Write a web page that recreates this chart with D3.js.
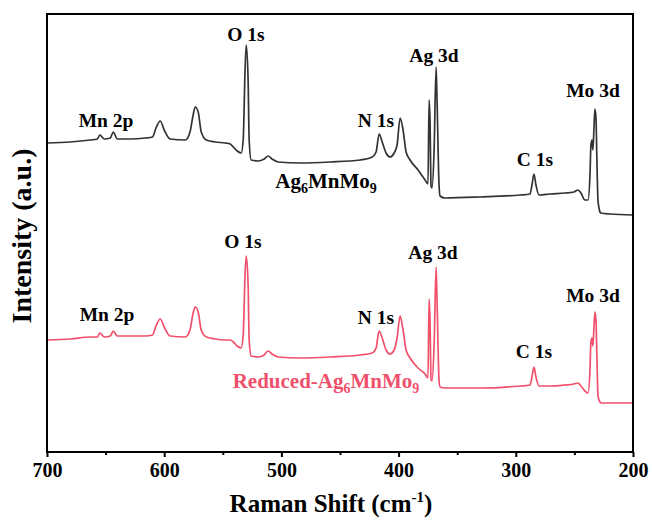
<!DOCTYPE html>
<html>
<head>
<meta charset="utf-8">
<script src="https://cdn.jsdelivr.net/npm/d3@7"></script>
<style>
  html, body { margin: 0; padding: 0; background: #fff; }
  svg { display: block; }
  text { font-family: "Liberation Serif", "Times New Roman", serif; font-weight: bold; }
</style>
</head>
<body>
<svg id="chart" width="652" height="522"></svg>
<script>
// Raman shift (cm-1) sampling points shared by both spectra
const shift = [700, 680, 663, 657, 655, 651, 646, 643.5, 640, 629,
  616, 610, 607, 603.4, 600, 595, 582, 578, 575.3, 573.5,
  571, 568.4, 564, 556.5, 548, 543.7, 541, 537.7, 534.3, 532.6,
  531, 530, 528.4, 527.5, 525.8, 519.8, 514.7, 511.3, 508, 502.8,
  484, 458.4, 432.8, 422.6, 419.2, 416.6, 414, 410.7, 407.3, 403.8,
  401.3, 398.7, 396.2, 393.6, 390.2, 383.4, 377.4, 374.9, 374, 373.2,
  372.3, 371.5, 369.7, 368, 367.2, 365.5, 364.6, 360.4, 330.5, 296.4,
  287.9, 286.2, 284.5, 282.8, 280.2, 270.8, 258, 250.4, 247, 244.4,
  241, 238.4, 236.7, 235.9, 235, 234.2, 233.3, 232.5, 231.6, 230.8,
  229.9, 229, 228.2, 227.3, 219.7, 200];

// Intensity (a.u.), pristine sample (vertically offset)
const pristine = [309, 310, 312, 313, 317, 313, 314, 320, 313, 313,
  314, 315, 324, 331, 322, 313, 312, 320, 337, 345,
  340, 320, 312, 310, 309, 308, 305, 301, 299, 312,
  382, 407, 372, 312, 292, 291, 293, 296, 293, 290,
  289, 290, 292, 295, 300, 318, 310, 299, 295, 299,
  307, 334, 322, 300, 292, 282, 272, 268, 352, 332,
  266, 264, 302, 385, 352, 267, 256, 254, 255, 257,
  258, 267, 278, 267, 257, 258, 259, 260, 262, 259,
  252, 252, 277, 307, 312, 302, 324, 343, 334, 292,
  252, 244, 240, 239, 238, 237];

// Intensity (a.u.), reduced sample
const reduced = [112, 113, 115, 115, 119, 115, 116, 121, 116, 116,
  116, 117, 126, 133, 125, 116, 115, 122, 139, 145,
  140, 122, 115, 113, 112, 112, 110, 106, 104, 117,
  177, 196, 167, 112, 96, 95, 97, 101, 98, 95,
  94, 95, 97, 99, 104, 121, 114, 102, 98, 102,
  114, 136, 122, 102, 94, 84, 78, 74, 153, 132,
  72, 71, 107, 185, 152, 72, 65, 64, 64, 66,
  67, 75, 85, 75, 66, 66, 67, 68, 69, 66,
  61, 59, 82, 110, 114, 106, 125, 140, 132, 97,
  57, 52, 50, 49, 49, 49];

const xTicks = [700, 600, 500, 400, 300, 200];
const xMinorTicks = [650, 550, 450, 350, 250];

const peakNames = ["Mn 2p", "O 1s", "N 1s", "Ag 3d", "C 1s", "Mo 3d"];

const svg = d3.select("#chart");
const margin = { left: 47, right: 19, top: 14, bottom: 70 };
const W = 652, H = 522;

const x = d3.scaleLinear().domain([700, 200]).range([margin.left, W - margin.right]);
const y = d3.scaleLinear().domain([0, 438]).range([H - margin.bottom, margin.top]);

const BLACK = "#333333";
const RED = "#f0506c";

const line = (vals) => d3.line()
  .x((d, i) => x(shift[i]))
  .y(d => y(d))
  .curve(d3.curveMonotoneX)(vals);

// spectra
svg.append("path").attr("d", line(pristine))
  .attr("fill", "none").attr("stroke", BLACK).attr("stroke-width", 1.7)
  .attr("stroke-linejoin", "round");
svg.append("path").attr("d", line(reduced))
  .attr("fill", "none").attr("stroke", RED).attr("stroke-width", 1.7)
  .attr("stroke-linejoin", "round");

// bottom axis
const gx = svg.append("g").attr("transform", `translate(0,${y(0)})`);
gx.call(d3.axisBottom(x).tickValues(xTicks).tickSize(5).tickSizeOuter(0).tickPadding(6)
  .tickFormat(d3.format("d")));
gx.select(".domain").remove();
gx.selectAll(".tick line").attr("stroke", "#000").attr("stroke-width", 2);
gx.selectAll(".tick text").attr("fill", "#000").attr("font-size", 20)
  .attr("font-family", "Liberation Serif, Times New Roman, serif").attr("font-weight", "bold");
const gxm = svg.append("g").attr("transform", `translate(0,${y(0)})`);
gxm.call(d3.axisBottom(x).tickValues(xMinorTicks).tickSize(3).tickFormat(""));
gxm.select(".domain").remove();
gxm.selectAll(".tick line").attr("stroke", "#000").attr("stroke-width", 2);

// frame
svg.append("rect")
  .attr("x", x(700)).attr("y", y(438))
  .attr("width", x(200) - x(700)).attr("height", y(0) - y(438))
  .attr("fill", "none").attr("stroke", "#000").attr("stroke-width", 2);

// axis titles
const xt = svg.append("text").attr("x", 331).attr("y", 512)
  .attr("text-anchor", "middle").attr("font-size", 25).attr("fill", "#000");
xt.append("tspan").text("Raman Shift (cm");
xt.append("tspan").attr("font-size", 15).attr("dy", -10).text("-1");
xt.append("tspan").attr("dy", 10).text(")");

svg.append("text")
  .attr("transform", "translate(31,236) rotate(-90)")
  .attr("text-anchor", "middle").attr("font-size", 28).attr("fill", "#000")
  .text("Intensity (a.u.)");

// peak annotations: [label index, x px, baseline px] for each spectrum
const peakLayout = [
  [0, 106, 127], [1, 246, 41], [2, 376, 127], [3, 434, 62], [4, 535, 166], [5, 593, 97],
  [0, 107, 321], [1, 243, 248], [2, 376, 324], [3, 433, 259], [4, 534, 358], [5, 593, 302]
];
svg.selectAll("text.peak").data(peakLayout).join("text")
  .attr("class", "peak")
  .attr("x", d => d[1]).attr("y", d => d[2])
  .attr("text-anchor", "middle").attr("font-size", 19.5).attr("fill", "#000")
  .text(d => peakNames[d[0]]);

// sample names with subscripts
function sampleLabel(prefix, cx, by, color) {
  const t = svg.append("text").attr("x", cx).attr("y", by)
    .attr("text-anchor", "middle").attr("font-size", 21).attr("fill", color);
  t.append("tspan").text(prefix + "Ag");
  t.append("tspan").attr("font-size", 14).attr("dy", 5).text("6");
  t.append("tspan").attr("dy", -5).text("MnMo");
  t.append("tspan").attr("font-size", 14).attr("dy", 5).text("9");
}
sampleLabel("", 326, 188, "#000");
sampleLabel("Reduced-", 326, 388, RED);
</script>
</body>
</html>
